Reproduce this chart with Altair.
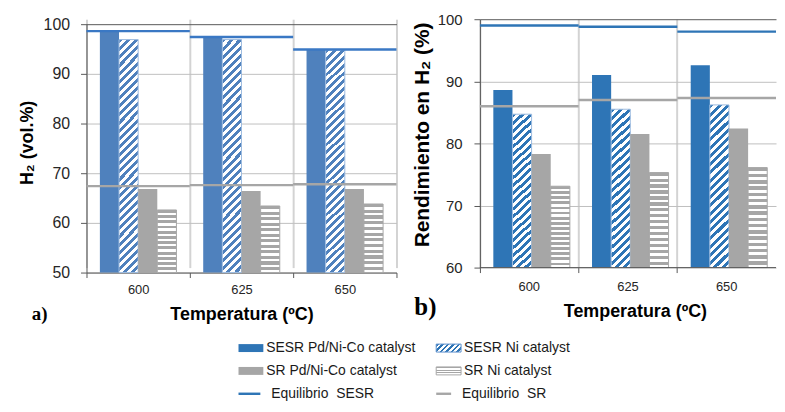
import altair as alt
import pandas as pd

categories = ["600", "625", "650"]
series_order = ["SESR Pd/Ni-Co catalyst", "SESR Ni catalyst",
                "SR Pd/Ni-Co catalyst", "SR Ni catalyst"]
eq_order = ["Equilibrio SESR", "Equilibrio SR"]

# panel a) H2 (vol.%)
a_sesr_pdnico = [98.6, 97.5, 94.9]
a_sesr_ni = [96.9, 96.9, 94.8]
a_sr_pdnico = [66.8, 66.4, 66.8]
a_sr_ni = [62.6, 63.4, 63.8]
a_eq_sesr = [98.6, 97.4, 94.9]
a_eq_sr = [67.4, 67.6, 67.8]

# panel b) Rendimiento en H2 (%)
b_sesr_pdnico = [88.6, 91.0, 92.6]
b_sesr_ni = [84.7, 85.5, 86.2]
b_sr_pdnico = [78.3, 81.5, 82.4]
b_sr_ni = [73.1, 75.3, 76.1]
b_eq_sesr = [99.0, 98.8, 98.0]
b_eq_sr = [86.0, 87.0, 87.3]

a_ticks = [50, 60, 70, 80, 90, 100]
b_ticks = [60, 70, 80, 90, 100]

legend_labels = ["SESR Pd/Ni-Co catalyst", "SESR Ni catalyst",
                 "SR Pd/Ni-Co catalyst", "SR Ni catalyst",
                 "Equilibrio\u00a0 SESR", "Equilibrio\u00a0 SR"]
legend_col = [0, 1, 0, 1, 0, 1]
legend_row = [0, 0, 1, 1, 2, 2]

FONT = "Liberation Sans"
H = 250
GRAY = "#A6A6A6"
DARK = "#595959"


def long_df(vals):
    rows = []
    for name, vs in zip(series_order + eq_order, vals):
        for c, v in zip(categories, vs):
            rows.append({"cat": c, "series": name, "value": v})
    return pd.DataFrame(rows)


def diag_grad(w, h, period, fg, bg, frac=0.5):
    n = max(1, round((w + h) / period))
    a = w / h
    s = (a + 1) / (a * a + 1)
    stops = []
    for i in range(n):
        o0, o1, o2 = i / n, (i + frac) / n, (i + 1) / n
        stops += [{"offset": o0, "color": fg}, {"offset": o1, "color": fg},
                  {"offset": o1, "color": bg}, {"offset": o2, "color": bg}]
    return {"gradient": "linear", "x1": 0, "y1": 0, "x2": a * s, "y2": s,
            "stops": stops}


def horiz_grad(h, period, fg, bg, frac=0.55):
    n = max(1, round(h / period))
    stops = []
    for i in range(n):
        o0, o1, o2 = i / n, (i + frac) / n, (i + 1) / n
        stops += [{"offset": o0, "color": fg}, {"offset": o1, "color": fg},
                  {"offset": o1, "color": bg}, {"offset": o2, "color": bg}]
    return {"gradient": "linear", "x1": 0, "y1": 0, "x2": 0, "y2": 1,
            "stops": stops}


def one(text):
    return pd.DataFrame({"t": [text]})


def panel(vals, ymin, yticks, ytitle, ytitle_size, blue, eqblue, ylab_size,
          ylab_pad, ytitle_x, ytitle_y, xlab_pad, xtitle_y,
          tag, tag_x, tag_y, tag_size, bnd, width, top_gap, cut):
    df = long_df(vals)
    step = width / len(categories)
    sub = step / 5.4
    ppu = H / (100 - ymin)
    ph = H + top_gap
    xscale = alt.Scale(paddingInner=0, paddingOuter=0)
    if cut:
        xaxis_extra = dict(bandPosition=0, tickExtra=False, domain=False)
    else:
        xaxis_extra = dict(tickBand="extent", domainColor=DARK)
    x_enc = alt.X(
        "cat:N", sort=categories, scale=xscale,
        axis=alt.Axis(
            title="Temperatura (ºC)", grid=True,
            gridColor="#D3D3D3", gridWidth=2, tickSize=5, tickColor=DARK,
            labelAngle=0, labelFontSize=13,
            labelColor="#262626", labelBaseline="middle",
            labelPadding=xlab_pad, titleFontSize=18, titleFontWeight="bold",
            titleColor="#000000", titleX=156, titleY=xtitle_y,
            titleBaseline="middle", titleAlign="center", **xaxis_extra))
    y_enc = alt.Y(
        "value:Q",
        scale=alt.Scale(domain=[ymin, 100], nice=False, zero=False,
                        range=[ph, top_gap]),
        axis=alt.Axis(
            title=ytitle, values=yticks, grid=True,
            gridColor={"condition": {"test": "datum.value === 100",
                                     "value": DARK},
                       "value": "#BFBFBF"},
            tickSize=6, tickColor=DARK, domainColor=DARK,
            labelFontSize=ylab_size, labelPadding=ylab_pad,
            labelColor="#262626", titleFontSize=ytitle_size,
            titleFontWeight="bold",
            titleColor="#000000", titleAngle=-90, titleX=ytitle_x,
            titleY=ytitle_y, titleBaseline="middle", titleAlign="center"))
    xo_enc = alt.XOffset(
        "series:N",
        scale=alt.Scale(domain=series_order, paddingInner=0, paddingOuter=0.7))

    base = alt.Chart(df)

    def bars(name, **mk):
        return base.transform_filter(alt.datum.series == name).mark_bar(
            **mk).encode(x=x_enc, y=y_enc, y2=alt.datum(ymin), xOffset=xo_enc)

    h_ni = sum(v - ymin for v in vals[1]) / 3 * ppu
    h_srni = sum(v - ymin for v in vals[3]) / 3 * ppu

    l1 = bars(series_order[0], fill=blue)
    l2 = bars(series_order[1], fill=diag_grad(sub, h_ni, 8.0, blue, "#FFFFFF"),
              stroke="#9DBBE0", strokeWidth=1)
    l3 = bars(series_order[2], fill=GRAY)
    l4 = bars(series_order[3], fill=horiz_grad(h_srni, 5.7, GRAY, "#FFFFFF"),
              stroke=GRAY, strokeWidth=1)

    def eq(name, color):
        return base.transform_filter(alt.datum.series == name).mark_tick(
            orient="horizontal", size=step, thickness=2.5, color=color,
            opacity=1).encode(x=x_enc, y=y_enc)

    l5 = eq(eq_order[1], GRAY)
    l6 = eq(eq_order[0], eqblue)

    lt = alt.Chart(one(tag)).mark_text(
        font="Liberation Serif", fontWeight="bold", fontSize=tag_size,
        align="left", baseline="middle", color="#000000").encode(
        text="t:N", x=alt.value(tag_x), y=alt.value(tag_y))

    lb = alt.Chart(one("b")).mark_rule(strokeOpacity=0, color="#FFFFFF").encode(
        x=alt.value(bnd[0]), y=alt.value(bnd[1]),
        x2=alt.value(bnd[2]), y2=alt.value(bnd[3]))

    layers = [l1, l2, l3, l4, l5, l6, lt, lb]
    if cut:
        layers.append(alt.Chart(one("d")).mark_rule(
            color=DARK, strokeWidth=1).encode(y=alt.value(ph)))
    return alt.layer(*layers).properties(width=width, height=ph)


# both plot areas share the same origin; panel a) starts 5px lower
left = panel(
    [a_sesr_pdnico, a_sesr_ni, a_sr_pdnico, a_sr_ni, a_eq_sesr, a_eq_sr],
    50, a_ticks, "H₂ (vol.%)", 18, "#4F81BD", "#3A78C4", 16, 11, -59, 124,
    12, 42, "a)", -55, 297, 19, (-79, -10, 317, 314), 312, 5, False)

right = panel(
    [b_sesr_pdnico, b_sesr_ni, b_sr_pdnico, b_sr_ni, b_eq_sesr, b_eq_sr],
    60, b_ticks, "Rendimiento en H₂ (%)", 21, "#2E75B6", "#2E75B6", 15, 12,
    -58, 116, 14, 44, "b)", -66, 290, 25, (-79, -10, 0, 314), 298, 0,
    True)

top = alt.hconcat(left, right, spacing=0)

# legend (origin aligned with the left plot origin)
leg = pd.DataFrame({"label": legend_labels, "col": legend_col,
                    "row": legend_row})
leg["i"] = range(len(leg))
lx = alt.X("col:Q", scale=alt.Scale(domain=[0, 1], range=[153, 352]), axis=None)
ly = alt.Y("row:Q", scale=alt.Scale(domain=[0, 2], range=[17, 63]), axis=None)
lbase = alt.Chart(leg)

RECT = "M0,-0.32H2V0.32H0Z"


def swatch(i, fill, size=625, shape=RECT, **mk):
    return lbase.transform_filter(alt.datum.i == i).mark_point(
        shape=shape, size=size, filled=True, fill=fill, opacity=1,
        **mk).encode(x=lx, y=ly)


s0 = swatch(0, "#2E75B6")
s1 = swatch(1, diag_grad(25, 8, 5.5, "#2E75B6", "#FFFFFF"),
            stroke="#5B8FCC", strokeWidth=1)
s2 = swatch(2, GRAY)
s3 = swatch(3, horiz_grad(8, 2.7, GRAY, "#FFFFFF", frac=0.38),
            stroke=GRAY, strokeWidth=1)
s4 = swatch(4, "#2E75B6", size=22 * 22, shape="M0,-0.11H2V0.11H0Z")
s5 = swatch(5, GRAY, size=15 * 15, shape="M0,-0.16H2V0.16H0Z")

t01 = lbase.transform_filter(alt.datum.row < 2).mark_text(
    align="left", baseline="middle", dx=28, fontSize=14, font=FONT,
    color="#1A1A1A").encode(x=lx, y=ly, text="label:N")
t4 = lbase.transform_filter(alt.datum.i == 4).mark_text(
    align="left", baseline="middle", dx=33, fontSize=14, font=FONT,
    color="#1A1A1A").encode(x=lx, y=ly, text="label:N")
t5 = lbase.transform_filter(alt.datum.i == 5).mark_text(
    align="left", baseline="middle", dx=26, fontSize=14, font=FONT,
    color="#1A1A1A").encode(x=lx, y=ly, text="label:N")

legend = alt.layer(s0, s1, s2, s3, s4, s5, t01, t4, t5).properties(
    width=540, height=70)

chart = alt.vconcat(top, legend, spacing=0).properties(
    padding=0, background="#FFFFFF"
).configure_view(strokeWidth=0).configure_axis(
    labelFont=FONT, titleFont=FONT
).configure_text(font=FONT)

chart.save("out.html", embed_options={"renderer": "svg", "actions": False})
